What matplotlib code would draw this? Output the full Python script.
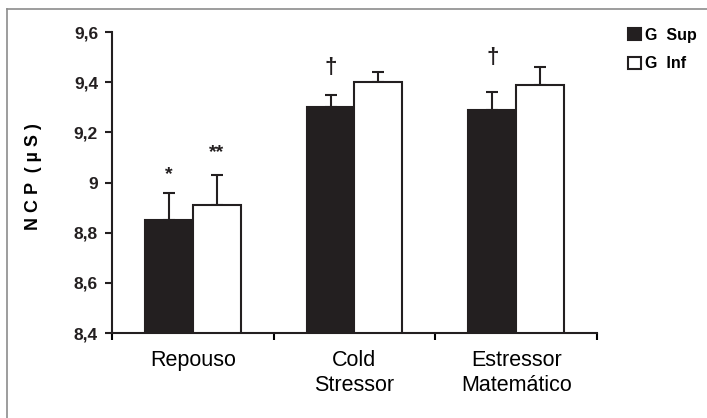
import matplotlib
matplotlib.use("Agg")
from matplotlib import pyplot as plt
from matplotlib.lines import Line2D
import numpy as np

categories = ["Repouso", "Cold\nStressor", "Estressor\nMatemático"]
sup_values = [8.85, 9.30, 9.29]
sup_errors = [0.11, 0.05, 0.07]
inf_values = [8.91, 9.40, 9.39]
inf_errors = [0.12, 0.04, 0.07]
y_ticks = [8.4, 8.6, 8.8, 9.0, 9.2, 9.4, 9.6]
y_tick_labels = ["8,4", "8,6", "8,8", "9", "9,2", "9,4", "9,6"]

# significance marks: (group, series, symbol, height)
marks = [(0, "sup", "*", 9.04), (0, "inf", "**", 9.13),
         (1, "sup", "\u2020", 9.46), (2, "sup", "\u2020", 9.50)]

plt.rcParams['font.family'] = ['Liberation Sans', 'DejaVu Sans']

fig = plt.figure(figsize=(7.07, 4.18), dpi=100)
ax = fig.add_axes([0.1584, 0.2033, 0.686, 0.7201])

width = 0.295
x = np.arange(len(categories)) + 0.5
lw = 1.5
ink = '#231f20'

ax.bar(x - width, sup_values, width, align='edge', color=ink,
       edgecolor=ink, linewidth=lw, label='G  Sup', zorder=2)
ax.bar(x, inf_values, width, align='edge', color='white',
       edgecolor=ink, linewidth=lw, label='G  Inf', zorder=2)
ax.errorbar(x - width / 2, sup_values, yerr=[np.zeros(3), sup_errors], fmt='none',
            ecolor=ink, elinewidth=lw, capsize=4.3, capthick=lw, zorder=1)
ax.errorbar(x + width / 2, inf_values, yerr=[np.zeros(3), inf_errors], fmt='none',
            ecolor=ink, elinewidth=lw, capsize=4.3, capthick=lw, zorder=1)

for grp, ser, sym, h in marks:
    xc = x[grp] - width / 2 if ser == "sup" else x[grp] + width / 2
    if sym == "\u2020":
        ax.text(xc, h, sym, ha='center', va='center', fontsize=16,
                fontweight='bold', color=ink)
    else:
        ax.text(xc, h - 0.01, sym, ha='center', va='center', fontsize=14,
                fontweight='bold', color=ink)

ax.set_xlim(0, 3)
ax.set_ylim(8.4, 9.6)
ax.set_yticks(y_ticks)
ax.set_yticklabels(y_tick_labels, fontsize=12.5, fontweight='bold')
ax.set_xticks([0, 1, 2, 3])
ax.set_xticklabels([])
ax.set_xticks(x, minor=True)
ax.set_xticklabels(categories, minor=True, fontsize=15.5, linespacing=1.2)
ax.tick_params(axis='x', which='minor', length=0, pad=12.5)
ax.tick_params(axis='x', which='major', length=5, width=lw, direction='out')
ax.tick_params(axis='y', length=5, width=lw, pad=5, colors=ink)

for s in ['top', 'right']:
    ax.spines[s].set_visible(False)
for s in ['left', 'bottom']:
    ax.spines[s].set_linewidth(lw)
    ax.spines[s].set_color(ink)

ax.set_ylabel("N C P  ( µ S )", fontsize=13, fontweight='bold')
ax.yaxis.set_label_coords(-0.144, 0.52)

leg = fig.legend(loc='upper left', bbox_to_anchor=(0.888, 0.934), frameon=False,
                 prop={'size': 11.5, 'weight': 'bold'}, handlelength=0.8,
                 handleheight=0.8, handletextpad=0.3, labelspacing=0.85,
                 borderaxespad=0, borderpad=0)

# outer frame lines (top and left)
fig.add_artist(Line2D([0.0099, 0.0099], [0, 0.9785], color='#8c8c8c', lw=1.2,
                      transform=fig.transFigure))
fig.add_artist(Line2D([0.0099, 1.0], [0.9785, 0.9785], color='#8c8c8c', lw=1.2,
                      transform=fig.transFigure))

fig.savefig("out.png", dpi=100)
